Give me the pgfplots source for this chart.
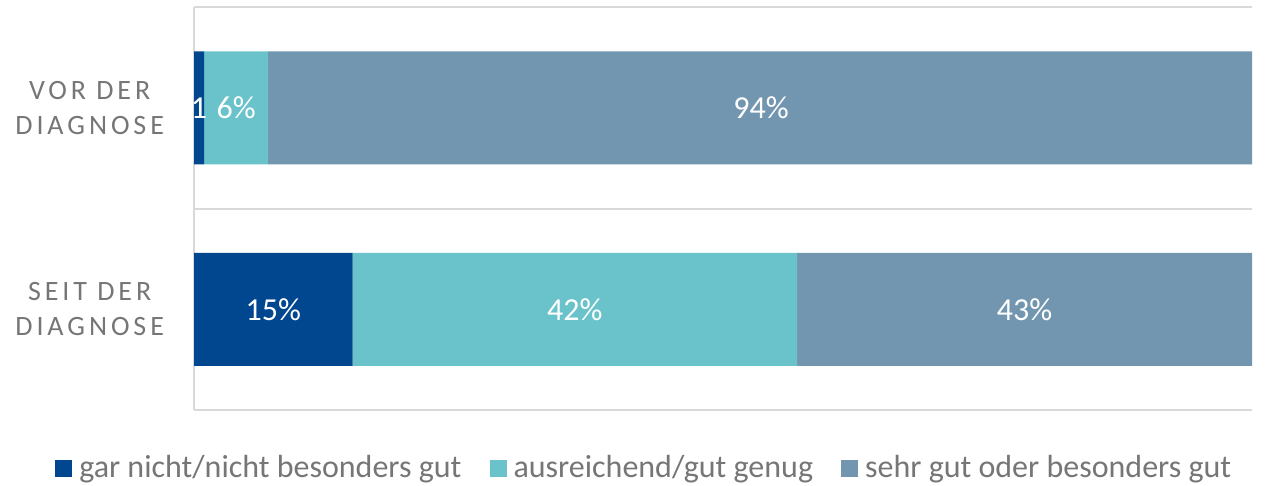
\documentclass[border=0pt]{standalone}
\usepackage{pgfplots}
\pgfplotsset{compat=1.18}
\usepackage{fontspec}
\setmainfont{Carlito}
\definecolor{c1}{HTML}{00478F}
\definecolor{c2}{HTML}{6AC3CB}
\definecolor{c3}{HTML}{7296B0}
\definecolor{txt}{HTML}{767676}
\definecolor{gridc}{HTML}{D9D9D9}
\begin{document}
\begin{tikzpicture}
\useasboundingbox (0,0) rectangle (633.5pt,243pt);
\begin{axis}[
  at={(97pt,38pt)}, anchor=south west,
  scale only axis, width=529pt, height=201.5pt,
  xbar stacked, bar width=56.5pt,
  xmin=0, xmax=100, ymin=-0.5, ymax=1.5, y dir=reverse,
  axis x line=none, axis y line=left,
  y axis line style={-, draw=gridc, line width=1pt},
  ytick={0,1}, yticklabels={{VOR DER\\DIAGNOSE},{SEIT DER\\DIAGNOSE}},
  major tick length=0,
  yticklabel style={align=center, text=txt, xshift=-11.5pt,
    font=\fontsize{14}{17.5}\selectfont\addfontfeature{LetterSpace=14}},
  extra y ticks={-0.5,0.5,1.5}, extra y tick labels={},
  extra y tick style={grid=major, major grid style={draw=gridc, line width=1pt}},
  legend style={at={(0.4265,-0.144)}, anchor=center, draw=none, legend columns=3,
    font=\fontsize{16}{19}\selectfont, text=txt,
    /tikz/every even column/.append style={column sep=12pt},
    /tikz/every odd column/.append style={column sep=1.5pt}},
  legend image code/.code={\fill[#1] (0pt,-4.25pt) rectangle (8.5pt,4.25pt);},
]
\addplot[fill=c1, draw=none] coordinates {(0.95,0) (15,1)};
\addplot[fill=c2, draw=none] coordinates {(6.05,0) (42,1)};
\addplot[fill=c3, draw=none] coordinates {(93.2,0) (43,1)};
\legend{gar nicht/nicht besonders gut, ausreichend/gut genug, sehr gut oder besonders gut}
\end{axis}
\begin{axis}[
  at={(97pt,38pt)}, anchor=south west,
  scale only axis, width=529pt, height=201.5pt,
  xmin=0, xmax=100, ymin=-0.5, ymax=1.5, y dir=reverse,
  hide axis, clip=false,
]
\addplot[only marks, mark=none, nodes near coords, point meta=explicit symbolic,
  nodes near coords style={text=white, anchor=center, font=\fontsize{16}{19}\selectfont}]
  coordinates {(0.47,0) [1] (3.98,0) [6\%] (53.6,0) [94\%]
               (7.5,1) [15\%] (36,1) [42\%] (78.5,1) [43\%]};
\end{axis}
\end{tikzpicture}
\end{document}
